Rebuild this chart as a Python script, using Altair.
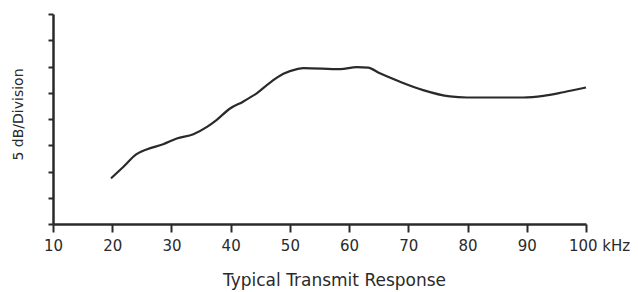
import altair as alt
import pandas as pd

freq_khz = [19.8, 21.9, 24.1, 25.8, 28.6, 30.9, 33.7, 36.0, 37.6, 39.9, 42.1, 44.4,
            46.6, 48.9, 51.2, 52.3, 58.5, 61.3, 63.2, 65.2, 68.6, 72.5, 77.0, 79.9,
            89.4, 92.8, 96.2, 100.0]
level_db = [8.7, 10.9, 13.3, 14.2, 15.2, 16.3, 17.1, 18.5, 19.8, 22.0, 23.3, 24.9,
            26.9, 28.6, 29.5, 29.7, 29.5, 29.9, 29.8, 28.7, 27.1, 25.5, 24.3, 24.1,
            24.1, 24.4, 25.1, 26.0]
x_ticks = [10, 20, 30, 40, 50, 60, 70, 80, 90, 100]
y_ticks = [0, 5, 10, 15, 20, 25, 30, 35, 40]

df = pd.DataFrame({"f": freq_khz, "db": level_db})

FONT = "DejaVu Sans"
INK = "#2a2a2a"

chart = alt.Chart(df).mark_line(
    color=INK, strokeWidth=2.2, interpolate="monotone"
).encode(
    x=alt.X("f:Q",
            scale=alt.Scale(domain=[10, 100], nice=False, zero=False),
            axis=alt.Axis(
                values=x_ticks, title="Typical Transmit Response", grid=False,
                domainColor=INK, domainWidth=2.5, tickColor=INK, tickWidth=2,
                tickSize=8, labelFont=FONT, labelFontSize=15, labelColor=INK,
                labelPadding=6, labelFlush=False,
                labelExpr="datum.value == 100 ? '100 kHz' : datum.label",
                labelOffset={"expr": "datum.value == 100 ? 13 : 0"},
                titleFont=FONT, titleFontSize=17, titleFontWeight="normal",
                titleColor=INK, titleBaseline="alphabetic", titleAlign="center",
                titleX=281, titleY=61)),
    y=alt.Y("db:Q",
            scale=alt.Scale(domain=[0, 40], nice=False),
            axis=alt.Axis(
                values=y_ticks, labels=False, title="5 dB/Division", grid=False,
                domainColor=INK, domainWidth=2.5, tickColor=INK, tickWidth=2,
                tickSize=5, titleFont=FONT, titleFontSize=14,
                titleFontWeight="normal", titleColor=INK, titleAngle=270,
                titleBaseline="middle", titleAlign="center",
                titleX=-35, titleY=100)),
).properties(
    width=533, height=210,
    autosize=alt.AutoSizeParams(type="none"),
    padding={"left": 45, "top": 6, "right": 44, "bottom": 68},
).configure_view(stroke=None)

chart.save("out.html", embed_options={"renderer": "svg", "actions": False})
